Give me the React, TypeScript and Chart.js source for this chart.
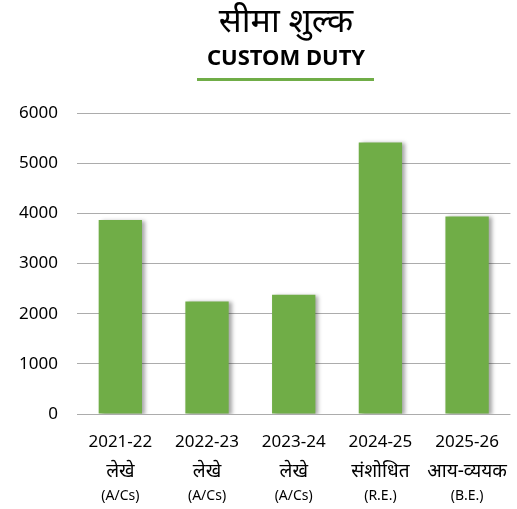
import React, { useEffect, useRef } from "react";
import { Chart, registerables } from "chart.js";

Chart.register(...registerables);

const categories = ["2021-22", "2022-23", "2023-24", "2024-25", "2025-26"];
const subLabelsHi = ["लेखे", "लेखे", "लेखे", "संशोधित", "आय-व्ययक"];
const subLabelsEn = ["(A/Cs)", "(A/Cs)", "(A/Cs)", "(R.E.)", "(B.E.)"];
const values = [3867, 2244, 2378, 5414, 3939];
const titleHi = "सीमा शुल्क";
const titleEn = "CUSTOM DUTY";
const yMin = 0;
const yMax = 6000;
const yStep = 1000;

const FONT = '"Noto Sans", "Noto Sans Devanagari", sans-serif';
const GREEN = "#70AD47";

export default function App() {
  const ref = useRef<HTMLCanvasElement | null>(null);

  useEffect(() => {
    if (!ref.current) return;

    const shadowPlugin = {
      id: "barShadow",
      beforeDatasetsDraw(chart: any) {
        const ctx = chart.ctx;
        ctx.save();
        ctx.shadowColor = "rgba(0,0,0,0.35)";
        ctx.shadowOffsetX = 3;
        ctx.shadowOffsetY = 1;
        ctx.shadowBlur = 4;
      },
      afterDatasetsDraw(chart: any) {
        chart.ctx.restore();
      },
    };

    const textPlugin = {
      id: "texts",
      afterDraw(chart: any) {
        const ctx = chart.ctx;
        const cx = 286;
        ctx.save();
        ctx.fillStyle = "#000";
        ctx.textAlign = "center";
        ctx.textBaseline = "alphabetic";
        ctx.font = `34px ${FONT}`;
        ctx.fillText(titleHi, cx, 32);
        ctx.font = `bold 22px ${FONT}`;
        ctx.fillText(titleEn, cx, 65);
        ctx.fillStyle = GREEN;
        ctx.fillRect(197, 78, 177, 3);

        const xs = chart.scales.x;
        ctx.fillStyle = "#000";
        ctx.textBaseline = "middle";
        categories.forEach((_, i) => {
          const x = xs.getPixelForValue(i);
          ctx.font = `19px ${FONT}`;
          ctx.fillText(subLabelsHi[i], x, 472);
          ctx.font = `14px ${FONT}`;
          ctx.fillText(subLabelsEn[i], x, 496);
        });
        ctx.restore();
      },
    };

    const chart = new Chart(ref.current, {
      type: "bar",
      data: {
        labels: categories,
        datasets: [
          {
            data: values,
            backgroundColor: GREEN,
            borderWidth: 0,
            barPercentage: 0.5,
            categoryPercentage: 1,
          },
        ],
      },
      options: {
        responsive: false,
        animation: false,
        layout: { padding: { top: 113, left: 0, right: 0, bottom: 0 } },
        plugins: {
          legend: { display: false },
          title: { display: false },
          tooltip: { enabled: false },
        },
        scales: {
          x: {
            grid: { display: false, drawTicks: false },
            border: { display: false },
            ticks: {
              color: "#000",
              font: { family: FONT, size: 17 },
              padding: 18,
              maxRotation: 0,
              autoSkip: false,
            },
            afterFit(scale: any) {
              scale.height = 95;
            },
          },
          y: {
            min: yMin,
            max: yMax,
            grid: { color: "#acacac", lineWidth: 1, drawTicks: false },
            border: { display: false },
            ticks: {
              stepSize: yStep,
              color: "#000",
              font: { family: FONT, size: 17 },
              padding: 19,
              callback: (v: any) => String(v),
            },
            afterFit(scale: any) {
              scale.width = 77;
            },
          },
        },
      },
      plugins: [shadowPlugin, textPlugin],
    });

    return () => chart.destroy();
  }, []);

  return (
    <div style={{ position: "fixed", left: 0, top: 0, width: 517, height: 509, background: "#fff" }}>
      <canvas ref={ref} width={517} height={509} style={{ display: "block" }} />
    </div>
  );
}
